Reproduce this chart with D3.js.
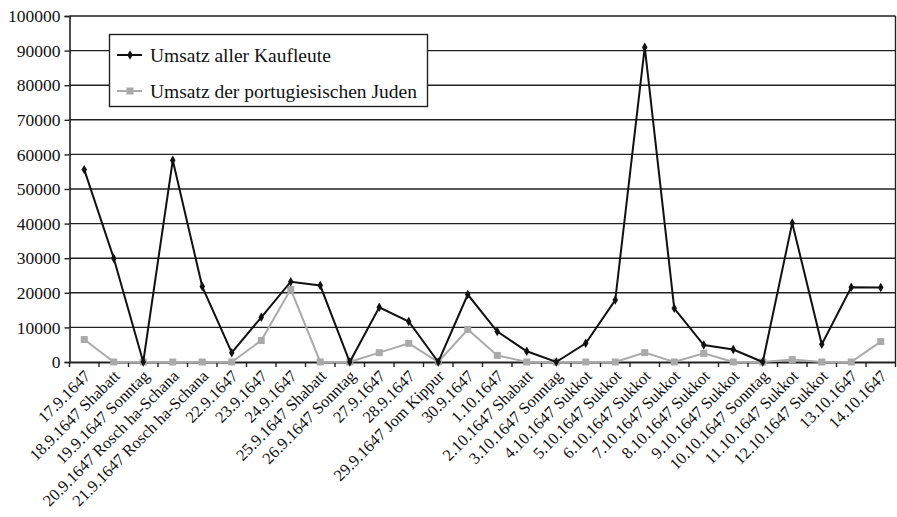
<!DOCTYPE html>
<html><head><meta charset="utf-8">
<script src="https://cdn.jsdelivr.net/npm/d3@7"></script>
<style>body{margin:0;background:#fff}svg{display:block}text{font-family:"Liberation Serif","DejaVu Serif",serif;fill:#111}</style>
</head><body><svg id="c" width="897" height="517"></svg>
<script>
const categories = ["17.9.1647","18.9.1647 Shabatt","19.9.1647 Sonntag","20.9.1647 Rosch ha-Schana","21.9.1647 Rosch ha-Schana","22.9.1647","23.9.1647","24.9.1647","25.9.1647 Shabatt","26.9.1647 Sonntag","27.9.1647","28.9.1647","29.9.1647 Jom Kippur","30.9.1647","1.10.1647","2.10.1647 Shabatt","3.10.1647 Sonntag","4.10.1647 Sukkot","5.10.1647 Sukkot","6.10.1647 Sukkot","7.10.1647 Sukkot","8.10.1647 Sukkot","9.10.1647 Sukkot","10.10.1647 Sonntag","11.10.1647 Sukkot","12.10.1647 Sukkot","13.10.1647","14.10.1647"];
const umsatzAlle = [55600,30000,0,58300,21800,2700,12900,23200,22100,0,15800,11700,0,19500,8800,3100,0,5400,17900,91000,15500,4900,3600,0,40200,5100,21600,21500];
const umsatzJuden = [6500,0,0,0,0,0,6200,21000,0,0,2700,5400,0,9400,1900,0,0,0,0,2700,0,2500,0,0,700,0,0,5900];
const yTicks = [0,10000,20000,30000,40000,50000,60000,70000,80000,90000,100000];
const seriesNames = ["Umsatz aller Kaufleute","Umsatz der portugiesischen Juden"];

const svg = d3.select("#c");
const L=69.5, R=895.5, T=16, B=362;
const x = d3.scaleBand().domain(categories).range([L,R]);
const y = d3.scaleLinear().domain([0,100000]).range([B,T]);
const cx = d => x(d)+x.bandwidth()/2;

// grid
svg.append("g").selectAll("line").data(yTicks.slice(1)).join("line")
  .attr("x1",L).attr("x2",R).attr("y1",d=>y(d)).attr("y2",d=>y(d))
  .attr("stroke","#222").attr("stroke-width",1.4);
svg.append("line").attr("x1",R).attr("x2",R).attr("y1",T).attr("y2",B).attr("stroke","#222").attr("stroke-width",1.4);

// y axis
const ya = svg.append("g").attr("transform",`translate(${L},0)`)
  .call(d3.axisLeft(y).tickValues(yTicks).tickFormat(d3.format("d")).tickSize(5).tickPadding(4));
ya.select(".domain").attr("stroke","#222").attr("stroke-width",1.6);
ya.selectAll(".tick line").attr("stroke","#222").attr("stroke-width",1.4);
ya.selectAll("text").style("font-size","17.5px").attr("fill","#111");

// x axis
const xa = svg.append("g").attr("transform",`translate(0,${B})`)
  .call(d3.axisBottom(x).tickSize(0).tickFormat(""));
xa.select(".domain").attr("stroke","#222").attr("stroke-width",1.8);
xa.selectAll(".tick").remove();
const bounds = categories.map(c=>x(c)).concat([R]);
xa.selectAll("line.t").data(bounds).join("line").attr("class","t")
  .attr("x1",d=>d).attr("x2",d=>d).attr("y1",0).attr("y2",5).attr("stroke","#222").attr("stroke-width",1.4);
xa.selectAll("text.l").data(categories).join("text").attr("class","l")
  .attr("transform",d=>`translate(${cx(d)+3},${11}) rotate(-45)`)
  .attr("text-anchor","end").attr("dy","0.35em").attr("fill","#111").style("font-size","16.5px").text(d=>d);

// lines
const line = d3.line().x((d,i)=>cx(categories[i])).y(d=>y(d));
svg.append("path").datum(umsatzJuden).attr("d",line).attr("fill","none").attr("stroke","#aaa").attr("stroke-width",2);
svg.append("g").selectAll("rect").data(umsatzJuden).join("rect")
  .attr("x",(d,i)=>cx(categories[i])-3.5).attr("y",d=>y(d)-3.5).attr("width",7).attr("height",7).attr("fill","#aaa");
svg.append("path").datum(umsatzAlle).attr("d",line).attr("fill","none").attr("stroke","#111").attr("stroke-width",2);
svg.append("g").selectAll("path").data(umsatzAlle).join("path")
  .attr("transform",(d,i)=>`translate(${cx(categories[i])},${y(d)})`).attr("d",d3.symbol().type(d3.symbolDiamond).size(26)).attr("fill","#111");

// legend
const lg = svg.append("g");
lg.append("rect").attr("x",109.5).attr("y",34.5).attr("width",318).attr("height",72).attr("fill","#fff").attr("stroke","#222").attr("stroke-width",1.4);
const rows=[{n:seriesNames[0],c:"#111",y:55,m:"d"},{n:seriesNames[1],c:"#aaa",y:91,m:"s"}];
rows.forEach(r=>{
  lg.append("line").attr("x1",117).attr("x2",142).attr("y1",r.y).attr("y2",r.y).attr("stroke",r.c).attr("stroke-width",2);
  if(r.m==="d") lg.append("path").attr("transform",`translate(130,${r.y})`).attr("d",d3.symbol().type(d3.symbolDiamond).size(26)).attr("fill",r.c);
  else lg.append("rect").attr("x",126.5).attr("y",r.y-3.5).attr("width",7).attr("height",7).attr("fill",r.c);
  lg.append("text").attr("x",150).attr("y",r.y).attr("dy","0.35em").style("font-size","19.5px").text(r.n);
});
</script></body></html>
